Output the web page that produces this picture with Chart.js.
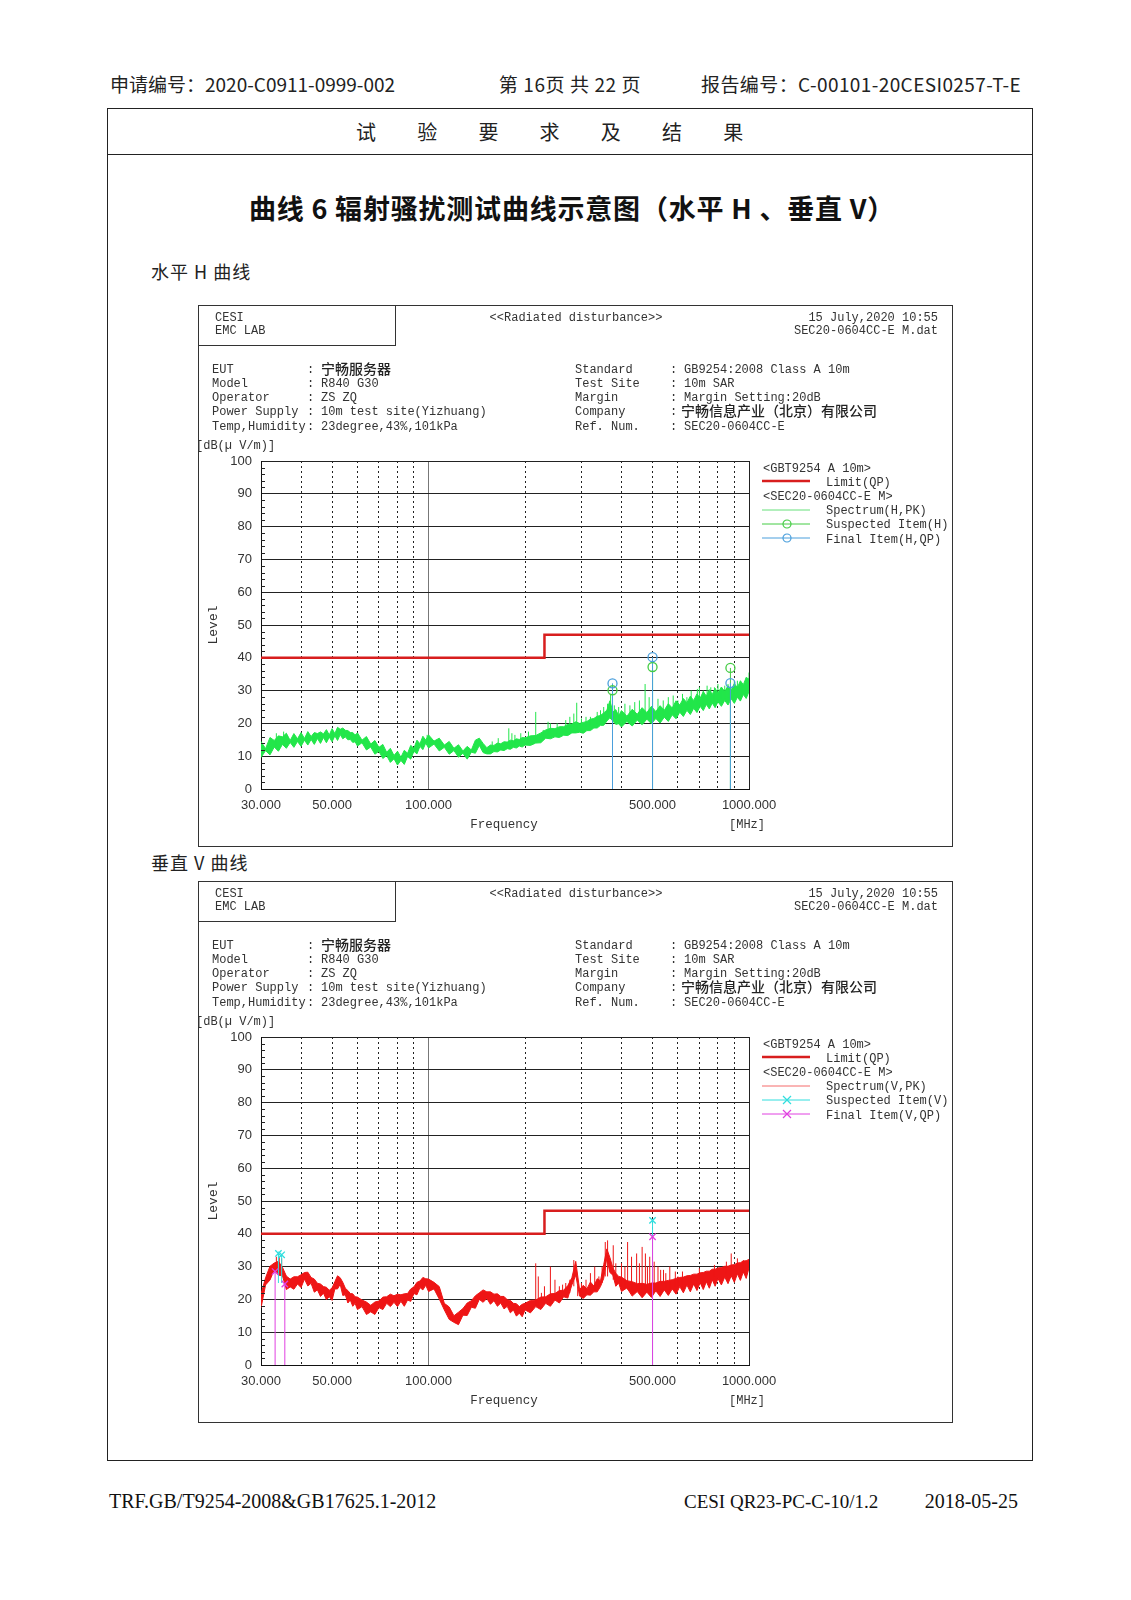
<!DOCTYPE html>
<html>
<head>
<meta charset="utf-8">
<script src="https://cdn.jsdelivr.net/npm/chart.js@4.4.0/dist/chart.umd.min.js"></script>
<style>
body{margin:0;background:#fff;width:1131px;height:1600px;position:relative;font-family:"Noto Sans CJK SC",sans-serif;color:#111;overflow:hidden}
.a{position:absolute;white-space:nowrap;line-height:1}
.box{position:absolute;border:1px solid #333;box-sizing:border-box}
.m{font-family:"Liberation Mono",monospace;font-size:12px;color:#333}
.cjk{font-family:"Noto Sans CJK SC",sans-serif;font-size:14px;color:#222;font-weight:500}
.hd{font-size:19px;color:#222}
.ft{font-family:"Liberation Serif",serif;font-size:20px;color:#111}
canvas{position:absolute}
</style>
</head>
<body>
<div class="box" style="left:107px;top:108px;width:926px;height:1353px;border:1.5px solid #222"></div>
<div class="box" style="left:107px;top:154px;width:926px;height:0;border-width:1.5px 0 0 0;border-color:#222"></div>
<canvas id="chartH" width="758" height="409" style="left:199px;top:440px"></canvas>
<canvas id="chartV" width="758" height="409" style="left:199px;top:1016px"></canvas>
<script>
// frequency grid of the traces, MHz
const freqs = [
  30,31,32,33,34,35,36,37,38,39,40,41,42,43,44,45,46,47,48,49,50,51,52,53,54,55,56,57,58,59,
  60,62,64,66,68,70,72,74,76,78,80,82,84,86,88,90,92,94,96,98,
  100,104,108,112,116,120,124,128,132,136,140,144,148,152,156,160,164,168,172,176,180,184,188,192,196,
  200,208,216,224,232,240,248,256,264,272,280,288,296,304,312,320,328,336,344,352,360,368,376,384,392,
  400,416,432,448,464,480,496,512,528,544,560,576,592,608,624,640,656,672,688,704,720,736,752,768,784,
  800,820,840,860,880,900,920,940,960,980,1000
];

// horizontal polarisation, peak spectrum band (upper / lower edge), dB(uV/m)
const specHHi = [
  14.5,12.3,15.7,14.8,16.2,15.9,17.0,14.8,16.9,15.3,17.2,15.4,17.5,16.0,17.2,16.9,17.4,16.8,18.1,16.5,18.4,16.9,18.8,18.2,18.6,17.9,17.8,17.2,17.2,16.5,
  17.1,14.9,16.0,13.7,14.8,12.7,13.6,11.2,12.4,10.2,11.5,9.7,11.8,10.9,13.3,12.4,14.9,13.8,16.1,14.9,
  16.5,14.6,15.5,13.4,14.5,12.4,13.5,11.6,13.0,11.9,14.9,15.5,13.9,12.6,13.4,13.3,14.0,13.8,14.4,14.3,14.9,14.7,15.3,15.1,15.7,
  15.6,16.2,16.3,17.1,18.0,18.5,18.4,19.0,19.0,19.7,19.8,20.5,20.0,20.3,20.6,21.3,21.5,22.2,22.4,23.2,24.0,26.9,23.5,24.2,22.3,
  23.9,22.2,24.3,22.8,24.8,23.3,25.2,23.6,25.4,24.0,26.0,24.7,26.9,25.6,27.6,26.3,28.3,27.0,29.0,27.7,29.7,28.3,30.3,28.8,30.7,
  29.2,31.1,29.7,31.5,30.2,32.2,30.9,33.0,31.8,34.0,33.5
];
const specHLo = [
  9.6,11.7,10.4,12.8,11.5,13.6,12.4,14.2,12.7,14.5,13.0,14.9,13.4,15.1,13.6,15.4,13.9,15.7,14.1,15.8,14.4,16.2,14.8,16.6,15.3,15.9,15.0,15.1,14.2,14.4,
  13.1,14.1,11.9,12.8,10.6,11.5,9.3,10.2,8.1,9.2,7.3,8.7,7.5,9.9,9.1,11.5,10.7,13.0,12.0,14.0,
  12.5,13.7,11.6,12.7,10.6,11.7,9.7,10.9,9.1,11.2,10.9,13.3,11.1,10.7,10.7,11.4,11.3,11.9,11.7,12.3,12.1,12.7,12.5,13.1,12.8,
  13.4,13.3,14.0,14.1,15.5,15.3,15.9,15.7,16.4,16.3,17.1,17.1,17.3,17.0,17.8,17.8,18.6,18.6,19.4,19.4,20.7,21.7,20.7,19.7,19.9,
  18.9,20.6,19.2,21.0,19.6,21.3,19.9,21.5,20.1,21.9,20.6,22.6,21.4,23.4,22.1,24.0,22.7,24.6,23.3,25.2,23.9,25.8,24.4,26.2,24.8,
  26.6,25.2,27.0,25.6,27.5,26.1,28.0,26.8,28.8,27.6,29.7
];
const spikeHF    = [33.5,35.3,54.5,99,158,165,178,182,186,194,205,216,228,236,240,252,268,276,284,290,300,310,320,336,344,352,362,370,380,392,410,425,440,455,474,488,500,520,540,560,580,600,620,640,660,690,700,720,740,760,780,800,820,840,860,900,920,950,980,1000];
const spikeHTop  = [17.0,17.5,18.0,16.5,14.5,15.5,18.5,17.0,16.5,17.0,17.5,23.5,18.0,20.5,20.0,20.0,21.0,22.0,23.0,26.3,21.5,22.0,22.0,23.5,24.0,25.0,26.0,29.0,25.5,25.0,26.0,25.5,26.5,27.0,32.0,28.0,34.0,27.5,27.0,28.0,28.5,27.0,29.0,28.0,30.0,30.5,31.0,30.0,31.5,31.0,31.0,32.0,31.0,31.5,32.0,33.0,33.0,32.0,34.0,35.5];
const spikeHBase = [13,14,16,14,12,12.5,13,13.5,13.5,14,14.5,15,15.5,16.5,16.5,17,17.5,18,18,18,18.5,19,19,20,20.5,21,22,22,21.5,21,21.5,21.5,21.8,22,22,22.2,22,22.5,22.5,23,23.5,23.5,24,24.5,25,25.5,25.5,26,26.5,26.5,27,27.2,27.5,27.6,27.8,28.5,28.8,29.5,30,30];
const suspHF = [375, 500, 875];
const suspHL = [30.1, 37.2, 36.9];
const finHF  = [375, 500, 875];
const finHL  = [32.2, 40.2, 32.3];

// vertical polarisation, peak spectrum band (upper / lower edge), dB(uV/m)
const specVHi = [
  21.6,26.6,30.1,31.1,31.6,29.8,27.1,26.2,26.9,26.9,27.5,28.2,28.3,26.7,26.2,24.9,24.7,23.9,23.7,22.8,23.5,25.4,27.2,26.6,25.2,23.4,22.7,21.8,21.7,20.8,
  20.7,19.8,19.2,18.2,19.2,19.5,20.7,20.8,21.6,21.1,21.6,21.4,21.7,21.8,23.2,23.8,25.2,25.6,26.7,26.3,
  26.2,25.2,23.9,18.8,17.7,15.0,16.1,17.2,18.9,19.6,21.1,22.0,22.9,22.3,22.3,21.6,21.7,20.9,20.9,19.9,19.7,18.8,18.7,17.8,18.5,
  18.8,19.7,19.8,20.7,20.8,21.7,21.8,22.7,22.8,24.2,26.6,31.6,23.0,24.3,23.2,25.3,24.1,26.3,25.7,30.6,35.4,32.8,29.6,28.0,27.0,
  26.8,25.7,25.4,24.8,24.9,24.6,25.0,25.0,25.5,25.5,25.8,26.0,26.4,26.7,26.8,27.2,27.3,27.7,27.7,28.1,28.2,28.6,28.6,29.2,29.2,
  29.6,29.7,30.1,30.1,30.5,30.6,31.1,31.2,31.7,31.8,32.2
];
const specVLo = [
  17.4,24.4,25.9,29.0,27.4,27.2,23.0,23.8,23.1,24.7,23.6,26.2,24.1,24.9,22.2,22.9,20.9,21.9,19.9,20.8,19.7,23.2,23.2,24.6,21.2,21.4,18.9,19.8,17.9,18.8,
  16.9,17.8,15.4,16.2,15.4,17.5,16.9,18.8,17.8,19.1,17.8,19.4,17.9,19.8,19.4,21.8,21.4,23.6,22.9,24.3,
  22.4,23.2,20.1,16.8,13.9,13.0,12.3,15.2,15.1,17.6,17.3,20.0,19.1,20.3,18.5,19.6,17.9,18.9,17.1,17.9,15.9,16.8,14.9,15.8,14.7,
  16.8,15.9,17.8,16.9,18.8,17.9,19.8,18.9,20.8,20.4,24.4,27.4,21.0,20.3,21.4,21.3,22.3,22.3,23.9,26.4,32.6,28.2,27.4,24.0,25.0,
  22.4,23.5,21.0,22.4,20.5,22.2,20.6,22.6,20.9,22.9,21.2,23.2,21.6,23.9,22.0,24.4,22.3,24.7,22.7,25.1,23.0,25.4,23.4,26.0,24.0,
  26.4,24.4,26.8,24.8,27.2,25.2,27.8,25.8,28.4,26.4,29.6
];
const spikeVF    = [33.5,34.2,34.8,216,220,225,230,240,248,256,262,268,276,284,292,300,310,320,330,340,348,356,362,377,384,400,410,418,430,446,455,464,475,482,490,506,520,530,541,550,566,589,600,620,660,700,780,850,880,920,960,1000];
const spikeVTop  = [33,33,32.5,31,27,22,24,30,26,24,24.5,25,26,32,24,25,26,28,30,27,30,37.5,38,36.5,31,31,30,37.5,33,34,31,36,34,30,33,31.5,30,29,29,28,30,28.5,27,28.5,27,29.5,30.5,31.5,34,32.5,32,32];
const spikeVBase = [28,28,28,18,18,19,19.5,19,20,20.5,21,21.5,22,24,21,21,22,23,23,24,25,27,27,26,25,24,24,23,23,23,23,23,23,23,23,23,23,23,23,23.5,23,24,24,24.5,25,26,27,28,27,28.5,28,29];
const suspVF = [34.0, 34.8, 500];
const suspVL = [34.0, 33.6, 44.1];
const suspVBase = [25, 25, 0];
const finVF  = [33.2, 35.6, 500];
const finVL  = [28.5, 24.7, 39.1];

// GB9254 class A 10 m QP limit
const limitF = [30, 230, 230, 1000];
const limitL = [40, 40, 47, 47];

const xTickVals  = [30,40,50,60,70,80,90,100,200,300,400,500,600,700,800,900,1000];
const xLabelVals = [30,50,100,500,1000];

function addText(txt, x, y, cls, align, style) {
  const d = document.createElement('div');
  d.className = 'a ' + (cls || '');
  d.textContent = txt;
  d.style.left = x + 'px';
  d.style.top = y + 'px';
  const tx = align === 'c' ? '-50%' : align === 'r' ? '-100%' : '0';
  d.style.transform = 'translate(' + tx + ',-50%)';
  if (style) d.style.cssText += style;
  document.body.appendChild(d);
  return d;
}

function legendSwatch(x, y, color, w, marker) {
  const ns = 'http://www.w3.org/2000/svg';
  const svg = document.createElementNS(ns, 'svg');
  svg.setAttribute('width', 50); svg.setAttribute('height', 12);
  svg.style.cssText = 'position:absolute;left:' + x + 'px;top:' + (y - 6) + 'px';
  let s = '<line x1="0" y1="6" x2="48" y2="6" stroke="' + color + '" stroke-width="' + w + '"/>';
  if (marker === 'circle') s += '<circle cx="25" cy="6" r="4" fill="none" stroke="' + color + '" stroke-width="1.2"/>';
  if (marker === 'cross') s += '<path d="M21 2 L29 10 M29 2 L21 10" stroke="' + color + '" stroke-width="1.2"/>';
  svg.innerHTML = s;
  document.body.appendChild(svg);
}

function panel(dy, pol, specLegend, susColor, finColor, marker) {
  const b = document.createElement('div');
  b.className = 'box';
  b.style.cssText = 'left:198px;top:' + (305 + dy) + 'px;width:755px;height:542px';
  document.body.appendChild(b);
  const h = document.createElement('div');
  h.className = 'box';
  h.style.cssText = 'left:198px;top:' + (305 + dy) + 'px;width:198px;height:41px';
  document.body.appendChild(h);

  addText('CESI', 215, 318 + dy, 'm');
  addText('EMC LAB', 215, 331 + dy, 'm');
  addText('<<Radiated disturbance>>', 576, 318 + dy, 'm', 'c');
  addText('15 July,2020 10:55', 938, 318 + dy, 'm', 'r');
  addText('SEC20-0604CC-E M.dat', 938, 331 + dy, 'm', 'r');

  const rows = [369.5, 383.8, 398, 412.3, 426.6];
  const lLab = ['EUT', 'Model', 'Operator', 'Power Supply', 'Temp,Humidity'];
  const lVal = [null, 'R840 G30', 'ZS ZQ', '10m test site(Yizhuang)', '23degree,43%,101kPa'];
  const rLab = ['Standard', 'Test Site', 'Margin', 'Company', 'Ref. Num.'];
  const rVal = ['GB9254:2008 Class A 10m', '10m SAR', 'Margin Setting:20dB', null, 'SEC20-0604CC-E'];
  rows.forEach((y, i) => {
    addText(lLab[i], 212, y + dy, 'm');
    addText(':', 307, y + dy, 'm');
    if (lVal[i]) addText(lVal[i], 321, y + dy, 'm');
    addText(rLab[i], 575, y + dy, 'm');
    addText(':', 670, y + dy, 'm');
    if (rVal[i]) addText(rVal[i], 684, y + dy, 'm');
  });
  addText('宁畅服务器', 321, 368 + dy, 'cjk');
  addText('宁畅信息产业（北京）有限公司', 681, 410 + dy, 'cjk');

  addText('[dB(\u00b5 V/m)]', 196, 446 + dy, 'm');
  addText('Level', 213, 625 + dy, 'm', 'c', 'font-size:13px;transform:translate(-50%,-50%) rotate(-90deg)');
  addText('Frequency', 504, 825 + dy, 'm', 'c', 'font-size:12.5px');
  addText('[MHz]', 747, 825 + dy, 'm', 'c');

  addText('<GBT9254 A 10m>', 763, 468.5 + dy, 'm');
  legendSwatch(762, 481 + dy, '#d81e1e', 2.5);
  addText('Limit(QP)', 826, 483 + dy, 'm');
  addText('<SEC20-0604CC-E M>', 763, 497 + dy, 'm');
  legendSwatch(762, 509.5 + dy, specLegend, 1);
  addText('Spectrum(' + pol + ',PK)', 826, 511 + dy, 'm');
  legendSwatch(762, 523.5 + dy, susColor, 1, marker);
  addText('Suspected Item(' + pol + ')', 826, 525 + dy, 'm');
  legendSwatch(762, 537.5 + dy, finColor, 1, marker);
  addText('Final Item(' + pol + ',QP)', 826, 539.5 + dy, 'm');
}

// page header and footer
addText('申请编号：2020-C0911-0999-002', 110, 83, 'hd');
addText('第 16页 共 22 页', 570, 83, 'hd', 'c', 'letter-spacing:0.6px');
addText('报告编号：C-00101-20CESI0257-T-E', 1021, 83, 'hd', 'r', 'letter-spacing:0.4px');
addText('试验要求及结果', 356, 132, '', null, 'font-size:20px;letter-spacing:41.2px;color:#222');
addText('曲线 6  辐射骚扰测试曲线示意图（水平 H 、垂直 V）', 572, 207, '', 'c', 'font-size:27px;font-weight:700;letter-spacing:0.8px;color:#111');
addText('水平 H 曲线', 151, 271, '', null, 'font-size:18px;letter-spacing:1px;color:#222');
addText('垂直 V 曲线', 151, 862, '', null, 'font-size:18px;letter-spacing:1px;color:#222');
addText('TRF.GB/T9254-2008&GB17625.1-2012', 109, 1501, 'ft');
addText('CESI QR23-PC-C-10/1.2', 684, 1501, 'ft', null, 'font-size:19px');
addText('2018-05-25', 1018, 1501, 'ft', 'r');

panel(0, 'H', '#66e07a', '#44cc44', '#4a9fdc', 'circle');
panel(576, 'V', '#f56a6a', '#30dede', '#e040e0', 'cross');

Chart.defaults.font.family = '"Liberation Sans", Arial, sans-serif';
Chart.defaults.font.size = 13;
Chart.defaults.color = '#333';

const minorTicks = {
  id: 'minorTicks',
  afterDraw(chart) {
    const {ctx, chartArea, scales} = chart;
    ctx.save();
    ctx.strokeStyle = '#222';
    ctx.lineWidth = 1;
    for (let v = 2; v < 100; v += 2) {
      if (v % 10 === 0) continue;
      const py = Math.round(scales.y.getPixelForValue(v)) + 0.5;
      ctx.beginPath();
      ctx.moveTo(chartArea.left, py);
      ctx.lineTo(chartArea.left + 4, py);
      ctx.stroke();
    }
    ctx.restore();
  }
};

const pts = (fs, ys) => fs.map((f, i) => ({x: f, y: ys[i]}));
const stems = (fs, tops, bases) => {
  const out = [];
  fs.forEach((f, i) => {
    out.push({x: f, y: bases ? bases[i] : 0}, {x: f, y: tops[i]}, {x: f, y: null});
  });
  return out;
};

const drawChart = (id, c) => {
  const ctx = document.getElementById(id);
  const line = (data, color, width, order, extra) => Object.assign({
    data: data, showLine: true, borderColor: color, borderWidth: width,
    pointRadius: 0, spanGaps: false, order: order
  }, extra || {});
  const mark = (data, color, order) => ({
    data: data, showLine: false, pointStyle: c.marker, pointRadius: 4.5,
    pointBorderColor: color, pointBackgroundColor: 'rgba(0,0,0,0)',
    pointBorderWidth: 1.3, order: order
  });
  new Chart(ctx, {
    type: 'scatter',
    data: {
      datasets: [
        mark(pts(c.finF, c.finL), c.finColor, 0),
        mark(pts(c.susF, c.susL), c.susColor, 1),
        line(stems(c.finF, c.finL), c.finColor, 1, 2),
        line(stems(c.susF, c.susL, c.susBase), c.susColor, 1, 3),
        line(pts(limitF, limitL), '#d81e1e', 2.5, 4),
        line(stems(c.spkF, c.spkTop, c.spkBase), c.specColor, 1, 5),
        line(pts(freqs, c.hi), c.specColor, 1, 6, {fill: '+1', backgroundColor: c.specColor}),
        line(pts(freqs, c.lo), c.specColor, 1, 7)
      ]
    },
    options: {
      responsive: false,
      animation: false,
      layout: {padding: {left: 0, top: 21, right: 208, bottom: 0}},
      plugins: {legend: {display: false}, tooltip: {enabled: false}},
      scales: {
        x: {
          type: 'logarithmic', min: 30, max: 1000,
          afterBuildTicks: s => { s.ticks = xTickVals.map(v => ({value: v})); },
          afterFit: s => { s.height = 60; },
          ticks: {
            autoSkip: false, maxRotation: 0, padding: 9,
            callback: v => xLabelVals.includes(v) ? v.toFixed(3) : ''
          },
          grid: {
            drawTicks: false, lineWidth: 1,
            color: g => (g.tick && g.tick.value === 100) ? '#777' : '#222'
          },
          border: {
            color: '#111', width: 1,
            dash: g => (g.tick && ![30, 100, 1000].includes(g.tick.value)) ? [2, 3] : []
          }
        },
        y: {
          min: 0, max: 100,
          afterFit: s => { s.width = 62; },
          ticks: {stepSize: 10, padding: 9},
          grid: {drawTicks: false, color: '#222', lineWidth: 1},
          border: {color: '#111', width: 1}
        }
      }
    },
    plugins: [minorTicks]
  });
};

drawChart('chartH', {
  hi: specHHi, lo: specHLo, specColor: '#22e64a',
  spkF: spikeHF, spkTop: spikeHTop, spkBase: spikeHBase,
  susF: suspHF, susL: suspHL, susBase: null, susColor: '#44cc44',
  finF: finHF, finL: finHL, finColor: '#4a9fdc', marker: 'circle'
});
drawChart('chartV', {
  hi: specVHi, lo: specVLo, specColor: '#ee1515',
  spkF: spikeVF, spkTop: spikeVTop, spkBase: spikeVBase,
  susF: suspVF, susL: suspVL, susBase: suspVBase, susColor: '#30dede',
  finF: finVF, finL: finVL, finColor: '#e040e0', marker: 'crossRot'
});
</script>
</body>
</html>
